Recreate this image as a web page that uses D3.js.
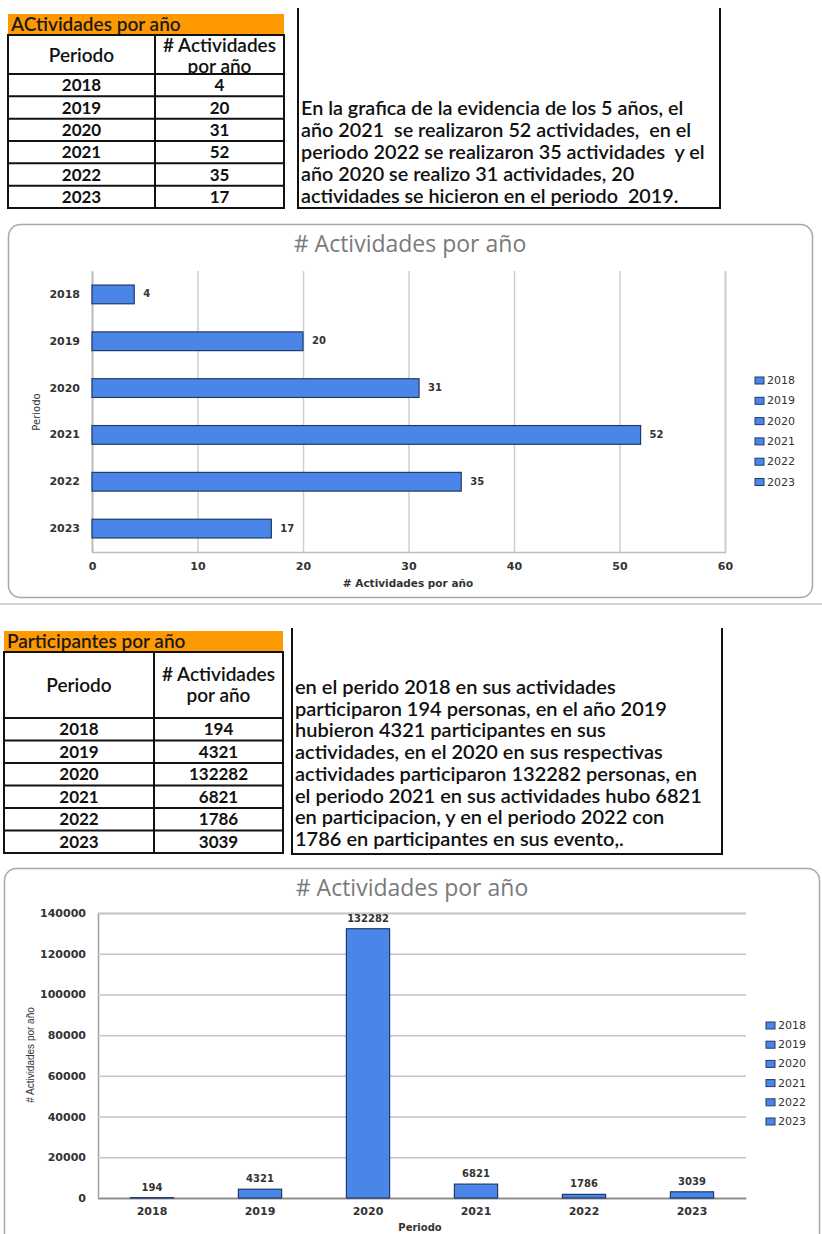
<!DOCTYPE html>
<html>
<head>
<meta charset="utf-8">
<script src="https://cdn.jsdelivr.net/npm/d3@7"></script>
<style>
body { margin: 0; background: #fff; }
svg { display: block; }
</style>
</head>
<body>
<div id="chart"></div>
<script>
// data
const periodos = ['2018', '2019', '2020', '2021', '2022', '2023']
const actividades = [4, 20, 31, 52, 35, 17]
const participantes = [194, 4321, 132282, 6821, 1786, 3039]
const ticksActividades = [0, 10, 20, 30, 40, 50, 60]
const ticksParticipantes = [0, 20000, 40000, 60000, 80000, 100000, 120000, 140000]

const texto1 = [
    'En la grafica de la evidencia de los 5 años, el',
    'año 2021  se realizaron 52 actividades,  en el',
    'periodo 2022 se realizaron 35 actividades  y el',
    'año 2020 se realizo 31 actividades, 20',
    'actividades se hicieron en el periodo  2019.'
]
const texto2 = [
    'en el perido 2018 en sus actividades',
    'participaron 194 personas, en el año 2019',
    'hubieron 4321 participantes en sus',
    'actividades, en el 2020 en sus respectivas',
    'actividades participaron 132282 personas, en',
    'el periodo 2021 en sus actividades hubo 6821',
    'en participacion, y en el periodo 2022 con',
    '1786 en participantes en sus evento,.'
]

const W = 822, H = 1234
const blue = '#4a86e8'
const barStroke = '#1f3b6b'
const textFont = 'Lato, "Open Sans", sans-serif'
const tickFont = '"DejaVu Sans", Verdana, sans-serif'

let svg = d3.select('#chart').append('svg')
    .attr('width', W)
    .attr('height', H)

function drawTable(g, id, title, values, box) {
    // orange title strip
    g.append('rect')
        .attr('x', box.x).attr('y', box.y)
        .attr('width', box.w).attr('height', box.titleH)
        .attr('fill', '#ff9900')
    g.append('text')
        .attr('x', box.x + 3).attr('y', box.y + box.titleH - 4)
        .attr('font-family', textFont).attr('font-size', 19).attr('font-weight', 600)
        .attr('fill', '#1a1a1a')
        .text(title)

    let top = box.y + box.titleH
    let rowY = d3.scaleBand()
        .domain(periodos)
        .range([top + box.headH, box.y + box.h])

    // header cell clip (the tight header cuts off "por año" in the first table)
    g.append('clipPath').attr('id', id)
        .append('rect')
            .attr('x', box.colX).attr('y', top)
            .attr('width', box.x + box.w - box.colX).attr('height', box.headH)

    let lines = g.append('g').attr('stroke', '#111').attr('stroke-width', 2).attr('fill', 'none')
    lines.append('rect')
        .attr('x', box.x).attr('y', top)
        .attr('width', box.w).attr('height', box.y + box.h - top)
    lines.append('line')
        .attr('x1', box.colX).attr('x2', box.colX)
        .attr('y1', top).attr('y2', box.y + box.h)
    lines.selectAll('line.row')
        .data(periodos)
        .enter()
        .append('line')
            .attr('class', 'row')
            .attr('x1', box.x).attr('x2', box.x + box.w)
            .attr('y1', d => rowY(d)).attr('y2', d => rowY(d))

    let headText = g.append('g')
        .attr('font-family', textFont).attr('font-size', 19).attr('font-weight', 600)
        .attr('fill', '#111').attr('text-anchor', 'middle')
    headText.append('text')
        .attr('x', (box.x + box.colX) / 2).attr('y', top + box.headH / 2 + 7)
        .text('Periodo')
    let headCol = headText.append('g').attr('clip-path', `url(#${id})`)
    headCol.append('text')
        .attr('x', (box.colX + box.x + box.w) / 2).attr('y', top + box.headH / 2 - 4 + box.headShift)
        .text('# Actividades')
    headCol.append('text')
        .attr('x', (box.colX + box.x + box.w) / 2).attr('y', top + box.headH / 2 + 17 + box.headShift)
        .text('por año')

    let body = g.append('g')
        .attr('font-family', textFont).attr('font-size', 17).attr('font-weight', 700)
        .attr('fill', '#111').attr('text-anchor', 'middle')
    body.selectAll('text.per')
        .data(periodos)
        .enter()
        .append('text')
            .attr('class', 'per')
            .attr('x', (box.x + box.colX) / 2)
            .attr('y', d => rowY(d) + rowY.bandwidth() / 2 + 6)
            .text(d => d)
    body.selectAll('text.val')
        .data(values)
        .enter()
        .append('text')
            .attr('class', 'val')
            .attr('x', (box.colX + box.x + box.w) / 2)
            .attr('y', (d, i) => rowY(periodos[i]) + rowY.bandwidth() / 2 + 6)
            .text(d => d)
}

function drawTextBox(g, lines, box) {
    g.append('path')
        .attr('d', `M${box.x},${box.y}V${box.y + box.h}H${box.x + box.w}V${box.y}`)
        .attr('fill', 'none').attr('stroke', '#111').attr('stroke-width', 2)
    g.selectAll('text')
        .data(lines)
        .enter()
        .append('text')
            .attr('x', box.x + 3)
            .attr('y', (d, i) => box.firstY + i * box.lineH)
            .attr('font-family', textFont).attr('font-size', box.size).attr('font-weight', 600)
            .attr('fill', '#111')
            .style('white-space', 'pre')
            .text(d => d)
}

function drawLegend(g, x, y0, step) {
    let items = g.selectAll('g.leg')
        .data(periodos)
        .enter()
        .append('g')
            .attr('class', 'leg')
            .attr('transform', (d, i) => `translate(${x},${y0 + i * step})`)
    items.append('rect')
        .attr('x', 0).attr('y', -4)
        .attr('width', 9).attr('height', 7)
        .attr('fill', blue).attr('stroke', barStroke).attr('stroke-width', 1)
    items.append('text')
        .attr('x', 12).attr('y', 0)
        .attr('dominant-baseline', 'middle')
        .attr('font-family', tickFont).attr('font-size', 11)
        .attr('fill', '#333')
        .text(d => d)
}

// ---------- section 1 ----------
drawTable(svg.append('g'), 'head1', 'ACtividades por año', actividades,
    { x: 8, y: 14, w: 276, h: 194, titleH: 21, headH: 39, colX: 155, headShift: 1 })
drawTextBox(svg.append('g'), texto1, { x: 298, y: 8, w: 422, h: 200, firstY: 115, lineH: 22, size: 19.8 })

// chart 1 frame
svg.append('rect')
    .attr('x', 8.5).attr('y', 224.5).attr('width', 804).attr('height', 373)
    .attr('rx', 12)
    .attr('fill', '#fff').attr('stroke', '#a8a8a8').attr('stroke-width', 1.5)
svg.append('line')
    .attr('x1', 0).attr('x2', W).attr('y1', 604).attr('y2', 604)
    .attr('stroke', '#c8c8c8').attr('stroke-width', 1.5)

svg.append('text')
    .attr('x', 410).attr('y', 252)
    .attr('text-anchor', 'middle')
    .attr('font-family', '"Open Sans", sans-serif').attr('font-size', 23)
    .attr('fill', '#7a7a7a')
    .text('# Actividades por año')

let x1 = d3.scaleLinear().domain([0, 60]).range([92, 725])
let y1 = d3.scaleBand().domain(periodos).range([271, 552]).paddingInner(0.6).paddingOuter(0.3)

let c1 = svg.append('g')
c1.append('g')
    .attr('transform', 'translate(0,552)')
    .call(d3.axisBottom(x1).tickValues(ticksActividades).tickSize(-(552 - 271)).tickPadding(10))
    .call(g => g.select('.domain').attr('stroke', '#bdbdbd').attr('stroke-width', 1.5))
    .call(g => g.selectAll('.tick line').attr('stroke', '#cfcfcf').attr('stroke-width', 1.5))
    .call(g => g.selectAll('.tick text')
        .attr('font-family', tickFont).attr('font-size', 11).attr('font-weight', 700).attr('fill', '#333'))
c1.append('g')
    .attr('transform', 'translate(92,0)')
    .call(d3.axisLeft(y1).tickSize(0).tickPadding(12))
    .call(g => g.select('.domain').attr('stroke', '#bdbdbd').attr('stroke-width', 1.5))
    .call(g => g.selectAll('.tick text')
        .attr('font-family', tickFont).attr('font-size', 11).attr('font-weight', 700).attr('fill', '#333'))

c1.selectAll('rect.bar')
    .data(actividades)
    .enter()
    .append('rect')
        .attr('class', 'bar')
        .attr('x', x1(0))
        .attr('y', (d, i) => y1(periodos[i]))
        .attr('width', d => x1(d) - x1(0))
        .attr('height', y1.bandwidth())
        .attr('fill', blue).attr('stroke', barStroke).attr('stroke-width', 1.2)
c1.selectAll('text.lbl')
    .data(actividades)
    .enter()
    .append('text')
        .attr('class', 'lbl')
        .attr('x', d => x1(d) + 9)
        .attr('y', (d, i) => y1(periodos[i]) + y1.bandwidth() / 2)
        .attr('dominant-baseline', 'middle')
        .attr('font-family', tickFont).attr('font-size', 10).attr('font-weight', 700)
        .attr('fill', '#333')
        .text(d => d)

c1.append('text')
    .attr('x', 408).attr('y', 587)
    .attr('text-anchor', 'middle')
    .attr('font-family', tickFont).attr('font-size', 10.5).attr('font-weight', 700)
    .attr('fill', '#333')
    .text('# Actividades por año')
c1.append('text')
    .attr('transform', 'translate(40,412) rotate(-90)')
    .attr('text-anchor', 'middle')
    .attr('font-family', tickFont).attr('font-size', 10)
    .attr('fill', '#333')
    .text('Periodo')
drawLegend(c1.append('g'), 755, 381, 20.3)

// ---------- section 2 ----------
drawTable(svg.append('g'), 'head2', 'Participantes por año', participantes,
    { x: 4, y: 631, w: 279, h: 222, titleH: 21, headH: 66, colX: 154, headShift: 0 })
drawTextBox(svg.append('g'), texto2, { x: 292, y: 628, w: 430, h: 226, firstY: 694, lineH: 21.7, size: 20 })

svg.append('rect')
    .attr('x', 4.5).attr('y', 868.5).attr('width', 815).attr('height', 420)
    .attr('rx', 12)
    .attr('fill', '#fff').attr('stroke', '#a8a8a8').attr('stroke-width', 1.5)

svg.append('text')
    .attr('x', 412).attr('y', 896)
    .attr('text-anchor', 'middle')
    .attr('font-family', '"Open Sans", sans-serif').attr('font-size', 23)
    .attr('fill', '#7a7a7a')
    .text('# Actividades por año')

let x2 = d3.scaleBand().domain(periodos).range([98, 746]).paddingInner(0.6).paddingOuter(0.3)
let y2 = d3.scaleLinear().domain([0, 140000]).range([1198, 913])

let c2 = svg.append('g')
c2.append('g')
    .attr('transform', 'translate(98,0)')
    .call(d3.axisLeft(y2).tickValues(ticksParticipantes).tickSize(-(746 - 98)).tickPadding(12).tickFormat(d3.format('d')))
    .call(g => g.select('.domain').attr('stroke', '#a0a0a0').attr('stroke-width', 1.5))
    .call(g => g.selectAll('.tick line').attr('stroke', '#c4c4c4').attr('stroke-width', 1.5))
    .call(g => g.selectAll('.tick text')
        .attr('font-family', tickFont).attr('font-size', 11).attr('font-weight', 700).attr('fill', '#333'))
c2.append('g')
    .attr('transform', 'translate(0,1198)')
    .call(d3.axisBottom(x2).tickSize(0).tickPadding(9))
    .call(g => g.select('.domain').attr('stroke', '#8a8a8a').attr('stroke-width', 1.5))
    .call(g => g.selectAll('.tick text')
        .attr('font-family', tickFont).attr('font-size', 11).attr('font-weight', 700).attr('fill', '#333'))

c2.selectAll('rect.bar')
    .data(participantes)
    .enter()
    .append('rect')
        .attr('class', 'bar')
        .attr('x', (d, i) => x2(periodos[i]))
        .attr('y', d => y2(d))
        .attr('width', x2.bandwidth())
        .attr('height', d => y2(0) - y2(d))
        .attr('fill', blue).attr('stroke', barStroke).attr('stroke-width', 1.2)
c2.selectAll('text.lbl')
    .data(participantes)
    .enter()
    .append('text')
        .attr('class', 'lbl')
        .attr('x', (d, i) => x2(periodos[i]) + x2.bandwidth() / 2)
        .attr('y', d => y2(d) - 7)
        .attr('text-anchor', 'middle')
        .attr('font-family', tickFont).attr('font-size', 10).attr('font-weight', 700)
        .attr('fill', '#333')
        .text(d => d)

c2.append('text')
    .attr('x', 420).attr('y', 1231)
    .attr('text-anchor', 'middle')
    .attr('font-family', tickFont).attr('font-size', 10).attr('font-weight', 700)
    .attr('fill', '#333')
    .text('Periodo')
c2.append('text')
    .attr('transform', 'translate(34,1055) rotate(-90)')
    .attr('text-anchor', 'middle')
    .attr('font-family', '"Liberation Sans Narrow", "Liberation Sans", sans-serif').attr('font-size', 10)
    .attr('fill', '#333')
    .text('# Actividades por año')
drawLegend(c2.append('g'), 766, 1026, 19.2)
</script>
</body>
</html>
